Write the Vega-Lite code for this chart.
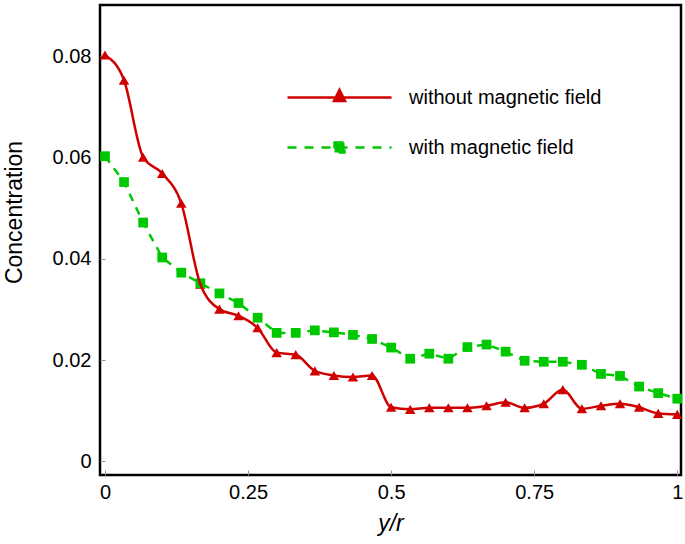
{
  "$schema": "https://vega.github.io/schema/vega-lite/v6.json",
  "width": 581,
  "height": 470,
  "autosize": "none",
  "padding": {"left": 100, "top": 5, "right": 4, "bottom": 69},
  "background": "white",
  "config": {
    "font": "Liberation Sans",
    "view": {"stroke": "black", "strokeWidth": 2.5},
    "axis": {
      "domain": false,
      "grid": false,
      "tickColor": "#999999",
      "tickWidth": 1,
      "tickSize": -5,
      "labelFont": "Liberation Sans",
      "labelFontSize": 20,
      "labelColor": "black",
      "titleFont": "Liberation Sans",
      "titleFontWeight": "normal",
      "titleColor": "black",
      "titleFontSize": 23
    }
  },
  "data": {
    "values": [
      {"x": 0, "c": 0.0803, "series": "without magnetic field"},
      {"x": 0.0333, "c": 0.0753, "series": "without magnetic field"},
      {"x": 0.0667, "c": 0.0601, "series": "without magnetic field"},
      {"x": 0.1, "c": 0.0569, "series": "without magnetic field"},
      {"x": 0.1333, "c": 0.0510, "series": "without magnetic field"},
      {"x": 0.1667, "c": 0.0350, "series": "without magnetic field"},
      {"x": 0.2, "c": 0.0301, "series": "without magnetic field"},
      {"x": 0.2333, "c": 0.0288, "series": "without magnetic field"},
      {"x": 0.2667, "c": 0.0264, "series": "without magnetic field"},
      {"x": 0.3, "c": 0.0215, "series": "without magnetic field"},
      {"x": 0.3333, "c": 0.0211, "series": "without magnetic field"},
      {"x": 0.3667, "c": 0.0179, "series": "without magnetic field"},
      {"x": 0.4, "c": 0.0170, "series": "without magnetic field"},
      {"x": 0.4333, "c": 0.0167, "series": "without magnetic field"},
      {"x": 0.4667, "c": 0.0170, "series": "without magnetic field"},
      {"x": 0.5, "c": 0.0107, "series": "without magnetic field"},
      {"x": 0.5333, "c": 0.0103, "series": "without magnetic field"},
      {"x": 0.5667, "c": 0.0106, "series": "without magnetic field"},
      {"x": 0.6, "c": 0.0106, "series": "without magnetic field"},
      {"x": 0.6333, "c": 0.0106, "series": "without magnetic field"},
      {"x": 0.6667, "c": 0.0110, "series": "without magnetic field"},
      {"x": 0.7, "c": 0.0117, "series": "without magnetic field"},
      {"x": 0.7333, "c": 0.0106, "series": "without magnetic field"},
      {"x": 0.7667, "c": 0.0114, "series": "without magnetic field"},
      {"x": 0.8, "c": 0.0142, "series": "without magnetic field"},
      {"x": 0.8333, "c": 0.0104, "series": "without magnetic field"},
      {"x": 0.8667, "c": 0.0110, "series": "without magnetic field"},
      {"x": 0.9, "c": 0.0114, "series": "without magnetic field"},
      {"x": 0.9333, "c": 0.0107, "series": "without magnetic field"},
      {"x": 0.9667, "c": 0.0095, "series": "without magnetic field"},
      {"x": 1, "c": 0.0093, "series": "without magnetic field"},
      {"x": 0, "c": 0.0603, "series": "with magnetic field"},
      {"x": 0.0333, "c": 0.0552, "series": "with magnetic field"},
      {"x": 0.0667, "c": 0.0472, "series": "with magnetic field"},
      {"x": 0.1, "c": 0.0403, "series": "with magnetic field"},
      {"x": 0.1333, "c": 0.0373, "series": "with magnetic field"},
      {"x": 0.1667, "c": 0.0352, "series": "with magnetic field"},
      {"x": 0.2, "c": 0.0332, "series": "with magnetic field"},
      {"x": 0.2333, "c": 0.0313, "series": "with magnetic field"},
      {"x": 0.2667, "c": 0.0284, "series": "with magnetic field"},
      {"x": 0.3, "c": 0.0254, "series": "with magnetic field"},
      {"x": 0.3333, "c": 0.0254, "series": "with magnetic field"},
      {"x": 0.3667, "c": 0.0259, "series": "with magnetic field"},
      {"x": 0.4, "c": 0.0255, "series": "with magnetic field"},
      {"x": 0.4333, "c": 0.0250, "series": "with magnetic field"},
      {"x": 0.4667, "c": 0.0242, "series": "with magnetic field"},
      {"x": 0.5, "c": 0.0225, "series": "with magnetic field"},
      {"x": 0.5333, "c": 0.0203, "series": "with magnetic field"},
      {"x": 0.5667, "c": 0.0213, "series": "with magnetic field"},
      {"x": 0.6, "c": 0.0203, "series": "with magnetic field"},
      {"x": 0.6333, "c": 0.0226, "series": "with magnetic field"},
      {"x": 0.6667, "c": 0.0231, "series": "with magnetic field"},
      {"x": 0.7, "c": 0.0217, "series": "with magnetic field"},
      {"x": 0.7333, "c": 0.0199, "series": "with magnetic field"},
      {"x": 0.7667, "c": 0.0197, "series": "with magnetic field"},
      {"x": 0.8, "c": 0.0197, "series": "with magnetic field"},
      {"x": 0.8333, "c": 0.0191, "series": "with magnetic field"},
      {"x": 0.8667, "c": 0.0173, "series": "with magnetic field"},
      {"x": 0.9, "c": 0.0169, "series": "with magnetic field"},
      {"x": 0.9333, "c": 0.0148, "series": "with magnetic field"},
      {"x": 0.9667, "c": 0.0135, "series": "with magnetic field"},
      {"x": 1, "c": 0.0124, "series": "with magnetic field"}
    ]
  },
  "encoding": {
    "x": {
      "field": "x",
      "type": "quantitative",
      "scale": {"domain": [-0.0087, 1.0065], "nice": false, "zero": false},
      "axis": {
        "values": [0, 0.25, 0.5, 0.75, 1],
        "format": ".2~f",
        "labelPadding": 12,
        "labelFlush": false,
        "labelOverlap": false,
        "title": "y/r",
        "titleFontStyle": "italic",
        "titleBaseline": "alphabetic",
        "titleY": 55
      }
    },
    "y": {
      "field": "c",
      "type": "quantitative",
      "scale": {"domain": [-0.00267, 0.09017], "nice": false, "zero": false},
      "axis": {
        "values": [0, 0.02, 0.04, 0.06, 0.08],
        "format": ".2~f",
        "labelPadding": 14,
        "labelFlush": false,
        "labelOverlap": false,
        "title": "Concentration",
        "titleAngle": -90,
        "titleBaseline": "alphabetic",
        "titleAlign": "center",
        "titleX": -79,
        "titleY": 207
      }
    },
    "color": {
      "field": "series",
      "type": "nominal",
      "scale": {
        "domain": ["without magnetic field", "with magnetic field"],
        "range": ["#d10000", "#00c800"]
      },
      "legend": {
        "orient": "none",
        "legendX": 228,
        "legendY": 81,
        "title": null,
        "labelFontSize": 20,
        "labelFont": "Liberation Sans",
        "labelColor": "black",
        "labelLimit": 400,
        "labelOffset": 58,
        "symbolSize": 400,
        "symbolStrokeWidth": 2.5,
        "rowPadding": 28,
        "padding": 0,
        "encode": {
          "symbols": {
            "update": {
              "shape": {"signal": "datum.value === 'without magnetic field' ? 'M-5.2,0L5.2,0M0,-0.76L0.55,0.34L-0.55,0.34Z' : 'M-5.2,0L5.2,0M-0.5,-0.5L0.5,-0.5L0.5,0.5L-0.5,0.5Z'"},
              "strokeDash": {"signal": "datum.value === 'with magnetic field' ? [9, 8] : [1, 0]"},
              "fill": {"scale": "color", "field": "value"},
              "stroke": {"scale": "color", "field": "value"},
              "opacity": {"value": 1},
              "fillOpacity": {"value": 1},
              "strokeOpacity": {"value": 1}
            }
          }
        }
      }
    }
  },
  "layer": [
    {
      "transform": [{"filter": "datum.series === 'without magnetic field'"}],
      "mark": {"type": "point", "shape": "triangle-up", "filled": true, "size": 110, "opacity": 1}
    },
    {
      "transform": [{"filter": "datum.series === 'with magnetic field'"}],
      "mark": {"type": "line", "strokeWidth": 2.5, "strokeDash": [8, 7]}
    },
    {
      "transform": [{"filter": "datum.series === 'with magnetic field'"}],
      "mark": {"type": "point", "shape": "square", "filled": true, "size": 95, "opacity": 1}
    },
    {
      "transform": [{"filter": "datum.series === 'without magnetic field'"}],
      "mark": {"type": "line", "strokeWidth": 2.5, "interpolate": "monotone"}
    }
  ]
}
